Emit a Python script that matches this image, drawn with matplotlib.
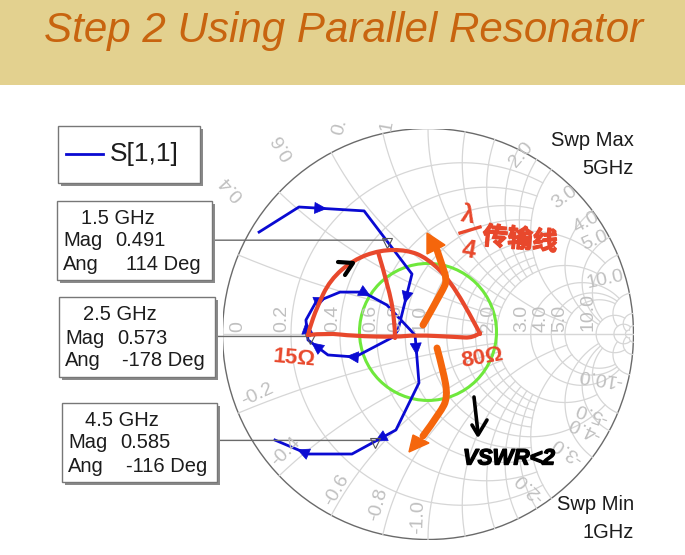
import numpy as np
import matplotlib
matplotlib.use("Agg")
import matplotlib.pyplot as plt
import matplotlib.patheffects as pe
from matplotlib.patches import Rectangle, Circle, Polygon, PathPatch
from matplotlib.path import Path
from matplotlib.transforms import blended_transform_factory

plt.rcParams['font.family'] = ['Liberation Sans', 'DejaVu Sans']

TITLE = "Step 2 Using Parallel Resonator"

# S11 trace (reflection coefficient, 1GHz to 5GHz)
s11_re = [-.822, -.628, -.311, -.078, -.146, -.170, -.355, -.487, -.584, -.594, -.545,
          -.428, -.316, -.200, -.063, -.054, -.044, -.156, -.370, -.584, -.745]
s11_im = [.496, .618, .599, .292, .019, -.015, -.112, -.102, -.029, .068, .156,
          .204, .204, .141, -.005, -.112, -.238, -.467, -.584, -.584, -.516]

marker_freq = ["1.5 GHz", "2.5 GHz", "4.5 GHz"]
marker_mag = [0.491, 0.573, 0.585]
marker_ang = [114, -178, -116]

# grid values and how far each line runs along the other coordinate
grid_val = [0.2, 0.4, 0.6, 0.8, 1.0, 1.2, 1.4, 1.6, 1.8, 2.0, 3.0, 4.0, 5.0, 10.0, 20.0, 50.0]
grid_end = [2.0, 2.0, 2.0, 2.0, 5.0, 2.0, 2.0, 2.0, 2.0, 5.0, 10.0, 10.0, 10.0, 20.0, 50.0, 50.0]
vswr = 2.0

BLUE = "#0a0ad2"
RED = "#e8482c"
ORANGE = "#f5660c"
GREEN = "#6fe83c"
GRID = "#d6d6d6"
LABEL = "#c0c0c0"
INK = "#1c1c1c"
W, H = 685, 555
CX, CY, RAD = 428, 334, 205.5

fig = plt.figure(figsize=(W / 100, H / 100), dpi=100, facecolor="white")

# pixel axes for the slide furniture and the pen notes
ax = fig.add_axes([0, 0, 1, 1], zorder=3)
ax.set_xlim(0, W)
ax.set_ylim(H, 0)
ax.axis('off')
ax.patch.set_alpha(0)

# smith axes, unit circle
sm = fig.add_axes([(CX - RAD) / W, 1 - (CY + RAD) / H, 2 * RAD / W, 2 * RAD / H], zorder=2)
sm.set_xlim(-1, 1)
sm.set_ylim(-1, 1)
sm.axis('off')


def gamma(z):
    return (z - 1) / (z + 1)


for v, end in zip(grid_val, grid_end):
    t = np.linspace(-end, end, 600)
    g = gamma(v + 1j * t)
    sm.plot(g.real, g.imag, color=GRID, lw=0.9)
    t = np.linspace(0, end, 400)
    for sign in (1, -1):
        g = gamma(t + 1j * sign * v)
        sm.plot(g.real, g.imag, color=GRID, lw=0.9)
sm.plot([-1, 1], [0, 0], color=GRID, lw=1)
sm.add_patch(Circle((0, 0), 1, fill=False, ec="#6a6a6a", lw=1))

# vswr circle
sm.add_patch(Circle((0, 0.01), (vswr - 1) / (vswr + 1), fill=False, ec=GREEN, lw=2.2, zorder=4))

# trace and direction arrows (segment, fraction along it)
sm.plot(s11_re, s11_im, color=BLUE, lw=2, zorder=5)
arrow_at = [(1, .4), (3, .5), (6, .3), (7, .8), (8, .9), (10, .4), (12, .3), (14, .9), (17, .45), (19, .3)]
for i, f in arrow_at:
    x0, y0, x1, y1 = s11_re[i], s11_im[i], s11_re[i + 1], s11_im[i + 1]
    xm, ym = x0 + f * (x1 - x0), y0 + f * (y1 - y0)
    sm.annotate("", xy=(xm + 0.03 * (x1 - x0), ym + 0.03 * (y1 - y0)), xytext=(xm, ym), zorder=5,
                arrowprops=dict(arrowstyle="-|>,head_length=0.75,head_width=0.36", mutation_scale=11,
                                color=BLUE, lw=0.5, shrinkA=0, shrinkB=0))

# markers and leader lines to the boxes
box_right = [212, 215, 217]
tr = blended_transform_factory(ax.transData, sm.transData)
for i in range(3):
    a = np.deg2rad(marker_ang[i])
    re, im = marker_mag[i] * np.cos(a), marker_mag[i] * np.sin(a)
    sm.annotate("", xy=(re, im + 0.008), xytext=(box_right[i], im + 0.008), textcoords=tr, zorder=6,
                arrowprops=dict(arrowstyle="-", color="#6a6a6a", lw=1, shrinkA=0, shrinkB=0))
    sm.plot([re], [im - 0.006], marker="v", ms=7, mfc="none", mec="#555555", mew=0.8, zorder=6)

# banner
ax.add_patch(Rectangle((0, 0), W, 85, fc="#e3d18f", ec="none"))
ax.text(344, 42, TITLE, fontsize=30.3, style="italic", color="#c8640f", ha="center", va="baseline")


# boxes with drop shadow
def box(x0, y0, x1, y1):
    ax.add_patch(Rectangle((x0 + 3, y0 + 3), x1 - x0, y1 - y0, fc="#8a8a8a", ec="none"))
    ax.add_patch(Rectangle((x0, y0), x1 - x0, y1 - y0, fc="white", ec="#777777", lw=1))


box(58, 126, 200, 183)
ax.plot([66, 103], [154, 154], color=BLUE, lw=2)
ax.text(110, 154, "S[1,1]", fontsize=19, va="center", color=INK)

boxes = [(57, 201, 212, 280, 81, 63, 115, 201, 219, 241, 265),
         (59, 297, 215, 377, 83, 65, 117, 205, 315, 338, 361),
         (62, 403, 217, 482, 85, 68, 120, 207, 420, 443, 467)]
for i, b in enumerate(boxes):
    box(*b[:4])
    ax.text(b[4], b[8], marker_freq[i], fontsize=14.5, va="center", color=INK)
    ax.text(b[5], b[9], "Mag", fontsize=14.5, va="center", color=INK)
    ax.text(b[6], b[9], "%.3f" % marker_mag[i], fontsize=14.5, va="center", color=INK)
    ax.text(b[5], b[10], "Ang", fontsize=14.5, va="center", color=INK)
    ax.text(b[7], b[10], "%d Deg" % marker_ang[i], fontsize=14.5, va="center", ha="right", color=INK)

ax.text(634, 140, "Swp Max", fontsize=14.5, ha="right", va="center", color=INK)
ax.text(634, 168, "5GHz", fontsize=14.5, ha="right", va="center", color=INK)
ax.text(634, 505, "Swp Min", fontsize=14.5, ha="right", va="center", color=INK)
ax.text(634, 533, "1GHz", fontsize=14.5, ha="right", va="center", color=INK)

# gray chart labels
labels = [("0", 238, 327, 90), ("0.2", 282, 318, 90), ("0.4", 333, 318, 90), ("0.6", 371, 318, 90),
          ("0.8", 396, 318, 90), ("1.0", 420, 318, 90), ("2.0", 489, 318, 90), ("3.0", 522, 318, 90),
          ("4.0", 541, 318, 90), ("5.0", 560, 318, 90), ("10.0", 588, 312, 90),
          ("0.4", 232, 188, 132), ("0.6", 283, 147, 121), ("0.", 340, 127, 75), ("1", 387, 126, 80),
          ("2.0", 521, 155, 50), ("3.0", 565, 197, 36), ("4.0", 586, 222, 29), ("5.0", 595, 241, 23),
          ("10.0", 605, 280, 12),
          ("-0.2", 257, 395, 25), ("-0.4", 286, 452, 45), ("-0.6", 337, 490, 60), ("-0.8", 378, 505, 75),
          ("-1.0", 418, 517, 88),
          ("-2.0", 530, 487, 135), ("-3.0", 568, 450, 145), ("-4.0", 585, 428, 155),
          ("-5.0", 592, 412, 160), ("-10.0", 600, 377, 171)]
for s, x, y, rot in labels:
    ax.text(x, y, s, fontsize=14, color=LABEL, rotation=rot, ha="center", va="center", rotation_mode="anchor")


# pen strokes, smooth curve through the control points
def pen(xs, ys, color=RED, lw=3):
    pts = list(zip(xs, ys))
    verts = [pts[0]]
    codes = [Path.MOVETO]
    for k in range(1, len(pts) - 1):
        end = pts[k + 1] if k == len(pts) - 2 else ((pts[k][0] + pts[k + 1][0]) / 2, (pts[k][1] + pts[k + 1][1]) / 2)
        verts += [pts[k], end]
        codes += [Path.CURVE3, Path.CURVE3]
    if len(pts) == 2:
        verts.append(pts[1])
        codes.append(Path.LINETO)
    ax.add_patch(PathPatch(Path(verts, codes), fc="none", ec=color, lw=lw, capstyle="round", joinstyle="round", zorder=7))


pen([308, 309, 317, 330, 353, 380, 407, 427, 450, 477, 480],
    [335, 330, 307, 280, 260, 250, 250, 258, 280, 327, 334])
pen([308, 327, 353, 397, 415, 457, 473, 480], [335, 333, 336, 337, 335, 337, 338, 333])
pen([378, 388, 395, 395], [252, 285, 320, 338])

# orange arrows
pen([423, 443, 447, 442, 437], [325, 290, 280, 265, 250], ORANGE, 5)
ax.add_patch(Polygon([(427, 233), (427, 254), (445, 245)], fc=ORANGE, ec=ORANGE, zorder=7))
pen([437, 443, 448, 440, 423], [348, 370, 397, 413, 436], ORANGE, 5)
ax.add_patch(Polygon([(409, 452), (413, 435), (429, 443)], fc=ORANGE, ec=ORANGE, zorder=7))

# black pen marks
ax.plot([338, 353, 345], [262, 263, 275], color="black", lw=3, solid_capstyle="round", zorder=7)
ax.plot([474, 478], [397, 433], color="black", lw=2.6, solid_capstyle="round", zorder=7)
ax.plot([472, 478, 487], [425, 435, 420], color="black", lw=2.6, solid_capstyle="round", zorder=7)

# handwritten notes, as text
thick = [pe.withStroke(linewidth=1, foreground=RED)]
ax.text(509, 459, "VSWR<2", fontsize=16, fontweight="bold", style="italic", color="black",
        ha="center", va="center", zorder=8, path_effects=[pe.withStroke(linewidth=1, foreground="black")])
ax.text(294, 358, "15Ω", fontsize=16, fontweight="bold", color=RED, ha="center", va="center", rotation=-5, zorder=8)
ax.text(482, 358, "80Ω", fontsize=16, fontweight="bold", color=RED, ha="center", va="center", rotation=10, zorder=8)
ax.text(468, 215, "λ", fontsize=18, fontweight="bold", color=RED, ha="center", va="center", rotation=-10, zorder=8)
ax.plot([460, 480], [233, 227], color=RED, lw=2.4, zorder=8)
ax.text(469, 250, "4", fontsize=18, fontweight="bold", color=RED, ha="center", va="center", rotation=-10, zorder=8)
ax.text(520, 240, "传输线", fontsize=18, fontweight="bold", family=['Noto Sans CJK SC', 'DejaVu Sans'], color=RED,
        ha="center", va="center", rotation=-5, zorder=8, path_effects=thick)

fig.savefig("out.png", dpi=100)
